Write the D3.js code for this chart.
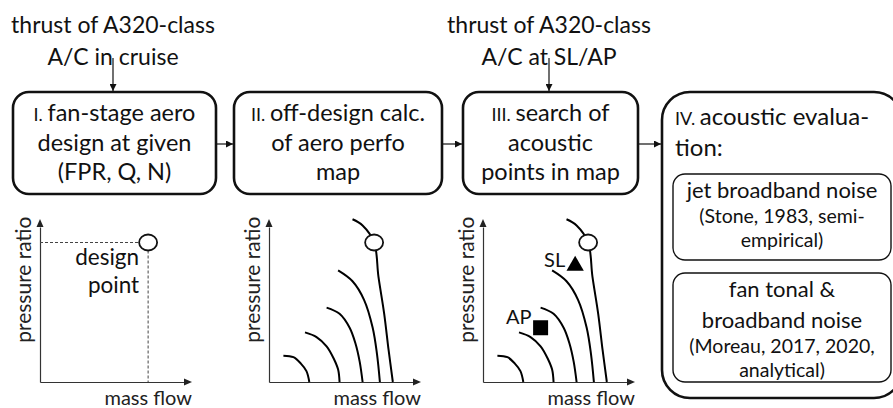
<!DOCTYPE html>
<html>
<head>
<meta charset="utf-8">
<script src="https://cdn.jsdelivr.net/npm/d3@7"></script>
<style>
    body { margin: 0; background: #fff; }
    svg { display: block; font-family: Lato, "Open Sans", sans-serif; }
</style>
</head>
<body>
<svg id="chart" width="893" height="408"></svg>
<script>
// Text of the four process steps (roman numeral is drawn in small caps)
const stepNumerals = ["I.", "II.", "III.", "IV."];
const stepLines = [
    ["fan-stage aero", "design at given", "(FPR, Q, N)"],
    ["off-design calc.", "of aero perfo", "map"],
    ["search of", "acoustic", "points in map"],
    ["acoustic evalua-", "tion:"]
];

// Inputs written above steps I and III
const cruiseInput = ["thrust of A320-class", "A/C in cruise"];
const acousticInput = ["thrust of A320-class", "A/C at SL/AP"];

// Noise models inside step IV
const jetModel = { title: ["jet broadband noise"], ref: ["(Stone, 1983, semi-", "empirical)"] };
const fanModel = { title: ["fan tonal &", "broadband noise"], ref: ["(Moreau, 2017, 2020,", "analytical)"] };

// Axis labels of the small maps
const xLabel = "mass flow";
const yLabel = "pressure ratio";
const designLabel = ["design", "point"];

// Speed lines of the fan map, [mass flow, pressure ratio] in relative units
const speedLines = [
    [[0.10, 0.17], [0.17, 0.16], [0.22, 0.12], [0.26, 0.07], [0.28, 0]],
    [[0.25, 0.32], [0.33, 0.29], [0.40, 0.23], [0.45, 0.15], [0.48, 0.08], [0.49, 0]],
    [[0.40, 0.48], [0.49, 0.44], [0.56, 0.35], [0.60, 0.25], [0.63, 0.13], [0.65, 0]],
    [[0.48, 0.72], [0.58, 0.65], [0.66, 0.53], [0.72, 0.35], [0.75, 0.18], [0.77, 0]],
    [[0.58, 1.05], [0.65, 1.01], [0.73, 0.90], [0.76, 0.68], [0.80, 0.44], [0.83, 0.21], [0.86, 0]]
];

// Operating points
const designPoint = [0.73, 0.90];
const slPoint = [0.64, 0.75];
const apPoint = [0.40, 0.35];

const svg = d3.select("#chart");
const ink = "#111";

// Arrow marker used for the flow arrows
svg.append("defs").append("marker")
    .attr("id", "arrow")
    .attr("viewBox", "0 0 10 10")
    .attr("refX", 10)
    .attr("refY", 5)
    .attr("markerWidth", 7)
    .attr("markerHeight", 7)
    .attr("markerUnits", "userSpaceOnUse")
    .attr("orient", "auto")
    .append("path")
    .attr("d", "M0,0L10,5L0,10Z")
    .attr("fill", ink);

// Box layout
const boxes = [
    { x: 13, y: 92, w: 203, h: 102, r: 16 },
    { x: 234, y: 92, w: 208, h: 102, r: 16 },
    { x: 463, y: 92, w: 175, h: 102, r: 16 },
    { x: 662, y: 92, w: 240, h: 306, r: 28 }
];

boxes.forEach(b => {
    svg.append("rect")
        .attr("x", b.x).attr("y", b.y)
        .attr("width", b.w).attr("height", b.h)
        .attr("rx", b.r).attr("ry", b.r)
        .style("fill", "none")
        .style("stroke", ink)
        .style("stroke-width", 2.6);
});

// Box text for steps I - III (centered)
const lineGap = 29.5;
for (let i = 0; i < 3; i++) {
    const b = boxes[i];
    const cx = b.x + b.w / 2;
    stepLines[i].forEach((line, j) => {
        const t = svg.append("text")
            .attr("x", cx)
            .attr("y", 121 + j * lineGap)
            .attr("text-anchor", "middle")
            .style("font-size", "23.5px")
            .style("fill", ink);
        if (j === 0) {
            t.append("tspan").style("font-size", "18px").text(stepNumerals[i] + " ");
        }
        t.append("tspan").text(line);
    });
}

// Step IV text (left aligned)
stepLines[3].forEach((line, j) => {
    const t = svg.append("text")
        .attr("x", 675)
        .attr("y", 125 + j * 31)
        .style("font-size", "24px")
        .style("fill", ink);
    if (j === 0) t.append("tspan").style("font-size", "18px").text(stepNumerals[3] + " ");
    t.append("tspan").text(line);
});

// Arrows between boxes
for (let i = 0; i < 3; i++) {
    svg.append("line")
        .attr("x1", boxes[i].x + boxes[i].w)
        .attr("x2", boxes[i + 1].x - 1)
        .attr("y1", 144).attr("y2", 144)
        .style("stroke", ink)
        .style("stroke-width", 1.2)
        .attr("marker-end", "url(#arrow)");
}

// Input labels with arrows down into boxes I and III
[[cruiseInput, boxes[0]], [acousticInput, boxes[2]]].forEach(([lines, b]) => {
    const cx = b.x + b.w / 2 - 1.5;
    lines.forEach((line, j) => {
        svg.append("text")
            .attr("x", cx)
            .attr("y", 33 + j * 32)
            .attr("text-anchor", "middle")
            .style("font-size", "23px")
            .style("fill", ink)
            .text(line);
    });
    svg.append("line")
        .attr("x1", cx).attr("x2", cx)
        .attr("y1", 58).attr("y2", b.y - 1)
        .style("stroke", ink)
        .style("stroke-width", 1.2)
        .attr("marker-end", "url(#arrow)");
});

// Noise model boxes inside step IV
const modelBoxes = [
    { model: jetModel, y: 174, h: 86 },
    { model: fanModel, y: 273, h: 109 }
];
modelBoxes.forEach(m => {
    svg.append("rect")
        .attr("x", 673).attr("y", m.y)
        .attr("width", 218).attr("height", m.h)
        .attr("rx", 12).attr("ry", 12)
        .style("fill", "none")
        .style("stroke", ink)
        .style("stroke-width", 1.4);
    const cx = 673 + 218 / 2;
    let y = m.y + 24;
    m.model.title.forEach(line => {
        svg.append("text").attr("x", cx).attr("y", y)
            .attr("text-anchor", "middle")
            .style("font-size", "22px").style("fill", ink)
            .text(line);
        y += 31;
    });
    y -= 6;
    m.model.ref.forEach(line => {
        svg.append("text").attr("x", cx).attr("y", y)
            .attr("text-anchor", "middle")
            .style("font-size", "19.5px").style("fill", ink)
            .text(line);
        y += 24;
    });
});

// Small map panels
const panelOrigins = [40, 269, 483];
const panelW = 144;
const axisY = 382;
const panelH = 155;

panelOrigins.forEach((ox, p) => {
    const x = d3.scaleLinear().domain([0, 1]).range([ox, ox + panelW]);
    const y = d3.scaleLinear().domain([0, 1]).range([axisY, axisY - panelH]);

    const g = svg.append("g");

    // Axes: only the domain line, no ticks
    g.append("g")
        .attr("transform", "translate(0," + axisY + ")")
        .call(d3.axisBottom(x).ticks(0).tickSizeOuter(0))
        .select(".domain").style("stroke", "#333").style("stroke-width", 1.2);
    g.append("g")
        .attr("transform", "translate(" + ox + ",0)")
        .call(d3.axisLeft(y).ticks(0).tickSizeOuter(0))
        .select(".domain").style("stroke", "#333").style("stroke-width", 1.2);

    // Arrow heads on the axes
    g.append("path")
        .attr("d", `M${x(1)},${axisY - 3.5}L${x(1) + 8},${axisY}L${x(1)},${axisY + 3.5}Z`)
        .style("fill", "#222");
    g.append("path")
        .attr("d", `M${ox - 3.5},${y(1)}L${ox},${y(1) - 8}L${ox + 3.5},${y(1)}Z`)
        .style("fill", "#222");

    // Axis labels
    g.append("text")
        .attr("x", x(1) + 8)
        .attr("y", 405)
        .attr("text-anchor", "end")
        .style("font-size", "20px")
        .style("fill", "#222")
        .text(xLabel);
    g.append("text")
        .attr("transform", `translate(${ox - 9},${y(0.66)}) rotate(-90)`)
        .attr("text-anchor", "middle")
        .style("font-size", "21px")
        .style("fill", "#222")
        .text(yLabel);

    if (p === 0) {
        // Design point with dashed guides
        const px = x(designPoint[0]) + 3, py = y(designPoint[1]);
        g.append("line")
            .attr("x1", ox).attr("x2", px - 9)
            .attr("y1", py).attr("y2", py)
            .style("stroke", "#444").style("stroke-width", 1)
            .style("stroke-dasharray", "3,2");
        g.append("line")
            .attr("x1", px).attr("x2", px)
            .attr("y1", py + 8).attr("y2", axisY)
            .style("stroke", "#444").style("stroke-width", 1)
            .style("stroke-dasharray", "3,2");
        g.append("ellipse")
            .attr("cx", px).attr("cy", py)
            .attr("rx", 9).attr("ry", 8)
            .style("fill", "#fff").style("stroke", ink).style("stroke-width", 1.8);
        designLabel.forEach((line, j) => {
            g.append("text")
                .attr("x", px - 9)
                .attr("y", py + 22 + j * 28)
                .attr("text-anchor", "end")
                .style("font-size", "22.5px")
                .style("fill", ink)
                .text(line);
        });
        return;
    }

    // Speed lines
    const line = d3.line()
        .x(d => x(d[0]))
        .y(d => y(d[1]))
        .curve(d3.curveCatmullRom);

    g.selectAll(".speed")
        .data(speedLines)
        .enter().append("path")
        .attr("class", "speed")
        .attr("d", line)
        .style("fill", "none")
        .style("stroke", "#000")
        .style("stroke-width", 2);

    g.append("ellipse")
        .attr("cx", x(designPoint[0])).attr("cy", y(designPoint[1]))
        .attr("rx", 9).attr("ry", 8)
        .style("fill", "#fff").style("stroke", ink).style("stroke-width", 1.8);

    if (p === 2) {
        // Sea-level and approach points
        g.append("path")
            .attr("d", d3.symbol(d3.symbolTriangle, 130)())
            .attr("transform", `translate(${x(slPoint[0])},${y(slPoint[1])})`)
            .style("fill", "#000");
        g.append("text")
            .attr("x", x(slPoint[0]) - 10)
            .attr("y", y(slPoint[1]) + 1)
            .attr("text-anchor", "end")
            .style("font-size", "20px")
            .style("fill", ink)
            .text("SL");
        g.append("path")
            .attr("d", d3.symbol(d3.symbolSquare, 225)())
            .attr("transform", `translate(${x(apPoint[0])},${y(apPoint[1])})`)
            .style("fill", "#000");
        g.append("text")
            .attr("x", x(apPoint[0]) - 9)
            .attr("y", y(apPoint[1]) - 4)
            .attr("text-anchor", "end")
            .style("font-size", "20px")
            .style("fill", ink)
            .text("AP");
    }
});
</script>
</body>
</html>
